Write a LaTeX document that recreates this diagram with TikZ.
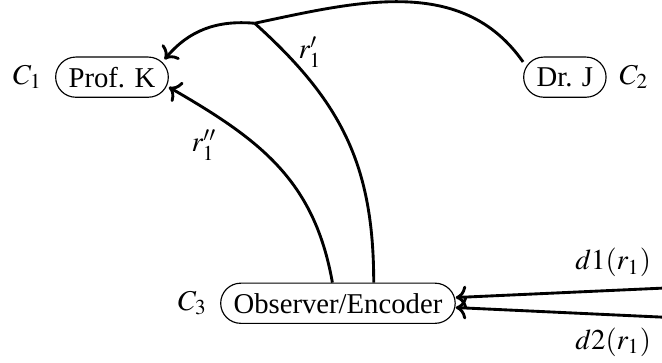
\documentclass[tikz,border=0pt]{standalone}
\usepackage{mathptmx}
\usepackage{fontspec}
\setmainfont{Liberation Serif}
\usetikzlibrary{arrows.meta, positioning}

\begin{document}
\begin{tikzpicture}[>=To,
        agent/.style={draw,rounded corners=7pt,inner xsep=4.5pt,
        minimum height=14pt},
        link/.style={line width=1pt}]
      \useasboundingbox (0,0) rectangle (8.11,4.435);
      \node[agent,label={[label distance=1pt]left:$C_1$}] (profk) at (1.372,3.49) {Prof. K};
      \node[agent,label={[label distance=1pt]right:$C_2$}] (drj) at (6.92,3.49) {Dr. J};
      \node[agent,label={[label distance=1pt]left:$C_3$}] (obs) at (4.14,0.72) {Observer/Encoder};
      \coordinate (jn) at (3.12,4.15);
      \coordinate (in1) at (8.11,0.905);
      \coordinate (in2) at (8.11,0.55);
      \draw[link] (drj.160) to[out=125,in=12] (jn);
      \draw[link,->] (jn) to[out=175,in=50] ([shift={(-1.5pt,-1pt)}]profk.north east);
      \draw[link] (obs.30) to[out=90,in=-42,looseness=1.05] (jn);
      \draw[link,->] (obs.105) to[out=100,in=-30,looseness=1.05] (profk.-10);
      \node (rp) at (3.80,3.80) {$r'_1$};
      \node (rpp) at (2.50,2.66) {$r''_1$};
      \draw[link,->] (in1) node[above left] (lbd1) {$d1(r_1)$} -- ([yshift=2pt]obs.east);
      \draw[link,->] (in2) node[below left] (lbd2) {$d2(r_1)$} -- ([yshift=-1.5pt]obs.east);
    \end{tikzpicture}
\end{document}
